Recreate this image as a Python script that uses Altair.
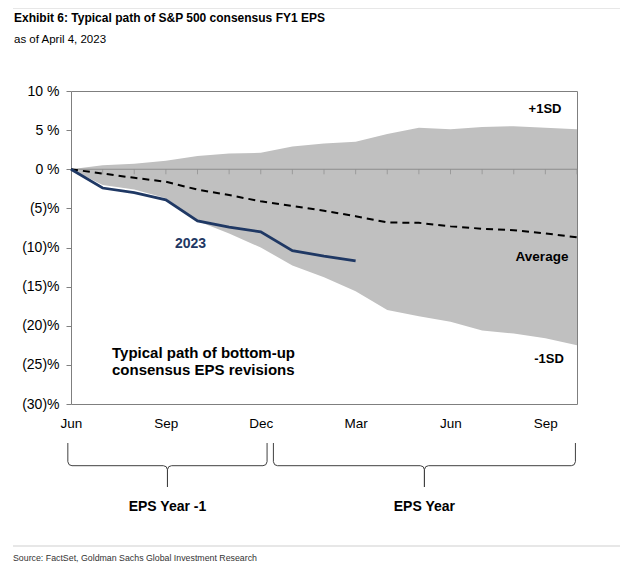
import altair as alt
import pandas as pd

# ---------------- data ----------------
months = list(range(17))  # Jun (year -1) .. Oct (EPS year)
upper_1sd = [0, 0.5, 0.7, 1.1, 1.7, 2.0, 2.1, 2.9, 3.3, 3.5, 4.5, 5.3, 5.1, 5.4, 5.5, 5.3, 5.1]
lower_1sd = [0, -2.0, -2.6, -3.7, -6.6, -8.2, -10.0, -12.3, -13.8, -15.6, -18.0, -18.8, -19.5, -20.6, -21.0, -21.6, -22.5]
average = [0, -0.55, -1.1, -1.6, -2.6, -3.3, -4.1, -4.7, -5.3, -6.0, -6.8, -6.85, -7.3, -7.6, -7.8, -8.2, -8.7]
eps_2023_months = list(range(10))
eps_2023 = [0, -2.4, -3.0, -3.9, -6.6, -7.4, -8.0, -10.4, -11.1, -11.7]

tick_months = [0, 3, 6, 9, 12, 15]
tick_labels = ["Jun", "Sep", "Dec", "Mar", "Jun", "Sep"]
y_ticks = [-30, -25, -20, -15, -10, -5, 0, 5, 10]

title_text = "Exhibit 6: Typical path of S&P 500 consensus FY1 EPS"
subtitle_text = "as of April 4, 2023"
source_text = "Source: FactSet, Goldman Sachs Global Investment Research"
note_lines = ["Typical path of bottom-up", "consensus EPS revisions"]
brace_spans = [(-0.1, 6.2, "EPS Year -1"), (6.4, 15.95, "EPS Year")]

# ---------------- tables ----------------
band_df = pd.DataFrame({"month": months, "upper": upper_1sd, "lower": lower_1sd, "avg": average})
eps_df = pd.DataFrame({"month": eps_2023_months, "eps": eps_2023})
zero_df = pd.DataFrame({"month": months[1:], "zero": [0] * (len(months) - 1)})

# brace outlines (x in month units, y in pixels below the plot)
TOP, MID, BOT, R = 352, 374.7, 396, 0.13
brace_rows = []
for bi, (s, e, _) in enumerate(brace_spans):
    c = (s + e) / 2
    pts = [(s, TOP), (s, MID - 4), (s + 0.04, MID - 1), (s + R, MID), (c - R, MID),
           (c - 0.04, MID + 1), (c, MID + 4), (c, BOT), (c, MID + 4), (c + 0.04, MID + 1),
           (c + R, MID), (e - R, MID), (e - 0.04, MID - 1), (e, MID - 4), (e, TOP)]
    for i, (bx, by) in enumerate(pts):
        brace_rows.append({"brace": bi, "i": i, "month": bx, "py": by})
brace_df = pd.DataFrame(brace_rows)

# ---------------- scales / axes ----------------
FONT = "Liberation Sans"

x_label_expr = "[" + ",".join("'%s'" % t for t in tick_labels) + "][round(datum.value / 3)]"
x_scale = alt.Scale(domain=[0, 16], nice=False, zero=False)
x_axis = alt.Axis(values=tick_months, labelExpr=x_label_expr, ticks=False, domain=False,
                  grid=False, labelPadding=12, labelFontSize=13.5, labelFont=FONT,
                  labelColor="#000000", labelFlush=False, labelOverlap=False, title=None)

y_label_expr = "datum.value >= 0 ? datum.value + ' %' : '(' + (-datum.value) + ')%'"
y_scale = alt.Scale(domain=[-30, 10], nice=False, zero=False)
y_axis = alt.Axis(values=y_ticks, labelExpr=y_label_expr, title=None, grid=False,
                  domain=False, tickSize=5, tickColor="#808080", labelPadding=7,
                  labelFontSize=14, labelFont=FONT, labelColor="#000000",
                  labelFlush=False, labelOverlap=False)


def X(f):
    return alt.X(f, scale=x_scale, axis=x_axis, title=None)


def Y(f):
    return alt.Y(f, scale=y_scale, axis=y_axis, title=None)


band = alt.Chart(band_df).mark_area(color="#c0c0c0", opacity=1).encode(
    x=X("month:Q"), y=Y("lower:Q"), y2="upper:Q")

zero_rule = alt.Chart(pd.DataFrame({"zero": [0]})).mark_rule(
    color="#8c8c8c", strokeWidth=1).encode(y=Y("zero:Q"))

zero_ticks = alt.Chart(zero_df).mark_tick(
    orient="vertical", size=5, yOffset=2.5, thickness=1, color="#8c8c8c").encode(
    x=X("month:Q"), y=Y("zero:Q"))

avg_line = alt.Chart(band_df).mark_line(
    color="#000000", strokeWidth=2, strokeDash=[7, 5]).encode(
    x=X("month:Q"), y=Y("avg:Q"))

eps_line = alt.Chart(eps_df).mark_line(
    color="#1f3864", strokeWidth=2.8).encode(x=X("month:Q"), y=Y("eps:Q"))

braces = alt.Chart(brace_df).mark_line(color="#404040", strokeWidth=1).encode(
    x=X("month:Q"), y=alt.Y("py:Q", scale=None, axis=None), detail="brace:N", order="i:Q")


def txt(s, px, py, size, weight="normal", color="#000000", align="center", font=FONT):
    return alt.Chart(pd.DataFrame({"t": [s]})).mark_text(
        fontSize=size, fontWeight=weight, color=color, align=align, baseline="middle",
        font=font).encode(x=alt.value(px), y=alt.value(py), text="t:N")


texts = [
    txt(title_text, -57, -73, 12, "bold", align="left"),
    txt(subtitle_text, -57, -51, 11.5, align="left"),
    txt(source_text, -58, 467, 8.8, color="#333333", align="left"),
    txt("2023", 119.5, 153, 14, "bold", color="#1f3864"),
    txt("+1SD", 474, 18, 13, "bold"),
    txt("Average", 471, 166, 13.5, "bold"),
    txt("-1SD", 478, 268, 13, "bold"),
    txt(note_lines[0], 41, 262, 15, "bold", align="left"),
    txt(note_lines[1], 41, 279, 15, "bold", align="left"),
]
for s, e, lab in brace_spans:
    cx = ((s + e) / 2) * 506 / 16
    texts.append(txt(lab, cx, 416, 14, "bold"))

sep_lines = [
    alt.Chart(pd.DataFrame({"k": [0]})).mark_rule(color="#cfcfcf", strokeWidth=1).encode(
        x=alt.value(-58), x2=alt.value(549), y=alt.value(yy))
    for yy in (-83, 455)
]

chart = alt.layer(band, zero_rule, zero_ticks, avg_line, eps_line, braces, *sep_lines, *texts).properties(
    width=506, height=313,
    padding={"left": 63, "top": 83, "right": 45, "bottom": 161},
    autosize="none", background="white",
).configure_view(stroke="#7f7f7f", strokeWidth=1)

chart.save("out.html", embed_options={"renderer": "svg", "actions": False})
